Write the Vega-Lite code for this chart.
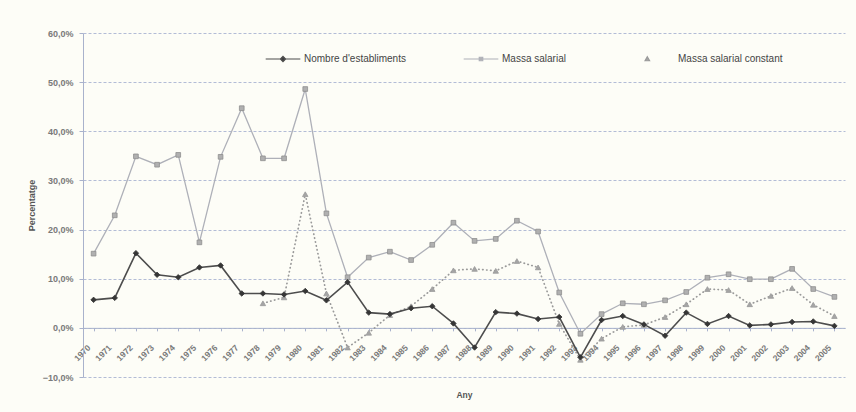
{
  "$schema": "https://vega.github.io/schema/vega-lite/v6.json",
  "width": 762,
  "height": 344,
  "autosize": {"type": "none"},
  "padding": {"left": 83, "top": 33, "right": 11, "bottom": 35},
  "background": "#fdfdf7",
  "config": {
    "font": "Liberation Sans",
    "view": {"stroke": null},
    "axis": {"labelFont": "Liberation Sans", "titleFont": "Liberation Sans"}
  },
  "data": {
    "values": [
      {"Any": "1970", "serie": "Nombre d'establiments", "valor": 5.7},
      {"Any": "1971", "serie": "Nombre d'establiments", "valor": 6.1},
      {"Any": "1972", "serie": "Nombre d'establiments", "valor": 15.2},
      {"Any": "1973", "serie": "Nombre d'establiments", "valor": 10.8},
      {"Any": "1974", "serie": "Nombre d'establiments", "valor": 10.3},
      {"Any": "1975", "serie": "Nombre d'establiments", "valor": 12.3},
      {"Any": "1976", "serie": "Nombre d'establiments", "valor": 12.7},
      {"Any": "1977", "serie": "Nombre d'establiments", "valor": 7.0},
      {"Any": "1978", "serie": "Nombre d'establiments", "valor": 7.0},
      {"Any": "1979", "serie": "Nombre d'establiments", "valor": 6.8},
      {"Any": "1980", "serie": "Nombre d'establiments", "valor": 7.5},
      {"Any": "1981", "serie": "Nombre d'establiments", "valor": 5.6},
      {"Any": "1982", "serie": "Nombre d'establiments", "valor": 9.3},
      {"Any": "1983", "serie": "Nombre d'establiments", "valor": 3.1},
      {"Any": "1984", "serie": "Nombre d'establiments", "valor": 2.8},
      {"Any": "1985", "serie": "Nombre d'establiments", "valor": 4.0},
      {"Any": "1986", "serie": "Nombre d'establiments", "valor": 4.4},
      {"Any": "1987", "serie": "Nombre d'establiments", "valor": 0.9},
      {"Any": "1988", "serie": "Nombre d'establiments", "valor": -4.0},
      {"Any": "1989", "serie": "Nombre d'establiments", "valor": 3.2},
      {"Any": "1990", "serie": "Nombre d'establiments", "valor": 2.9},
      {"Any": "1991", "serie": "Nombre d'establiments", "valor": 1.8},
      {"Any": "1992", "serie": "Nombre d'establiments", "valor": 2.2},
      {"Any": "1993", "serie": "Nombre d'establiments", "valor": -6.0},
      {"Any": "1994", "serie": "Nombre d'establiments", "valor": 1.6},
      {"Any": "1995", "serie": "Nombre d'establiments", "valor": 2.4},
      {"Any": "1996", "serie": "Nombre d'establiments", "valor": 0.7},
      {"Any": "1997", "serie": "Nombre d'establiments", "valor": -1.6},
      {"Any": "1998", "serie": "Nombre d'establiments", "valor": 3.1},
      {"Any": "1999", "serie": "Nombre d'establiments", "valor": 0.8},
      {"Any": "2000", "serie": "Nombre d'establiments", "valor": 2.4},
      {"Any": "2001", "serie": "Nombre d'establiments", "valor": 0.5},
      {"Any": "2002", "serie": "Nombre d'establiments", "valor": 0.7},
      {"Any": "2003", "serie": "Nombre d'establiments", "valor": 1.2},
      {"Any": "2004", "serie": "Nombre d'establiments", "valor": 1.3},
      {"Any": "2005", "serie": "Nombre d'establiments", "valor": 0.4},
      {"Any": "1970", "serie": "Massa salarial", "valor": 15.1},
      {"Any": "1971", "serie": "Massa salarial", "valor": 22.9},
      {"Any": "1972", "serie": "Massa salarial", "valor": 34.9},
      {"Any": "1973", "serie": "Massa salarial", "valor": 33.2},
      {"Any": "1974", "serie": "Massa salarial", "valor": 35.2},
      {"Any": "1975", "serie": "Massa salarial", "valor": 17.4},
      {"Any": "1976", "serie": "Massa salarial", "valor": 34.8},
      {"Any": "1977", "serie": "Massa salarial", "valor": 44.7},
      {"Any": "1978", "serie": "Massa salarial", "valor": 34.5},
      {"Any": "1979", "serie": "Massa salarial", "valor": 34.5},
      {"Any": "1980", "serie": "Massa salarial", "valor": 48.6},
      {"Any": "1981", "serie": "Massa salarial", "valor": 23.3},
      {"Any": "1982", "serie": "Massa salarial", "valor": 10.3},
      {"Any": "1983", "serie": "Massa salarial", "valor": 14.3},
      {"Any": "1984", "serie": "Massa salarial", "valor": 15.5},
      {"Any": "1985", "serie": "Massa salarial", "valor": 13.8},
      {"Any": "1986", "serie": "Massa salarial", "valor": 16.9},
      {"Any": "1987", "serie": "Massa salarial", "valor": 21.4},
      {"Any": "1988", "serie": "Massa salarial", "valor": 17.7},
      {"Any": "1989", "serie": "Massa salarial", "valor": 18.1},
      {"Any": "1990", "serie": "Massa salarial", "valor": 21.8},
      {"Any": "1991", "serie": "Massa salarial", "valor": 19.6},
      {"Any": "1992", "serie": "Massa salarial", "valor": 7.2},
      {"Any": "1993", "serie": "Massa salarial", "valor": -1.2},
      {"Any": "1994", "serie": "Massa salarial", "valor": 2.8},
      {"Any": "1995", "serie": "Massa salarial", "valor": 5.0},
      {"Any": "1996", "serie": "Massa salarial", "valor": 4.8},
      {"Any": "1997", "serie": "Massa salarial", "valor": 5.6},
      {"Any": "1998", "serie": "Massa salarial", "valor": 7.3},
      {"Any": "1999", "serie": "Massa salarial", "valor": 10.2},
      {"Any": "2000", "serie": "Massa salarial", "valor": 10.9},
      {"Any": "2001", "serie": "Massa salarial", "valor": 9.9},
      {"Any": "2002", "serie": "Massa salarial", "valor": 9.9},
      {"Any": "2003", "serie": "Massa salarial", "valor": 12.0},
      {"Any": "2004", "serie": "Massa salarial", "valor": 7.9},
      {"Any": "2005", "serie": "Massa salarial", "valor": 6.3},
      {"Any": "1978", "serie": "Massa salarial constant", "valor": 5.0},
      {"Any": "1979", "serie": "Massa salarial constant", "valor": 6.2},
      {"Any": "1980", "serie": "Massa salarial constant", "valor": 27.2},
      {"Any": "1981", "serie": "Massa salarial constant", "valor": 7.0},
      {"Any": "1982", "serie": "Massa salarial constant", "valor": -4.0},
      {"Any": "1983", "serie": "Massa salarial constant", "valor": -1.0},
      {"Any": "1984", "serie": "Massa salarial constant", "valor": 2.6},
      {"Any": "1985", "serie": "Massa salarial constant", "valor": 4.4},
      {"Any": "1986", "serie": "Massa salarial constant", "valor": 7.9},
      {"Any": "1987", "serie": "Massa salarial constant", "valor": 11.7},
      {"Any": "1988", "serie": "Massa salarial constant", "valor": 12.0},
      {"Any": "1989", "serie": "Massa salarial constant", "valor": 11.6},
      {"Any": "1990", "serie": "Massa salarial constant", "valor": 13.6},
      {"Any": "1991", "serie": "Massa salarial constant", "valor": 12.3},
      {"Any": "1992", "serie": "Massa salarial constant", "valor": 0.8},
      {"Any": "1993", "serie": "Massa salarial constant", "valor": -6.5},
      {"Any": "1994", "serie": "Massa salarial constant", "valor": -2.2},
      {"Any": "1995", "serie": "Massa salarial constant", "valor": 0.2},
      {"Any": "1996", "serie": "Massa salarial constant", "valor": 0.6},
      {"Any": "1997", "serie": "Massa salarial constant", "valor": 2.2},
      {"Any": "1998", "serie": "Massa salarial constant", "valor": 4.8},
      {"Any": "1999", "serie": "Massa salarial constant", "valor": 7.9},
      {"Any": "2000", "serie": "Massa salarial constant", "valor": 7.7},
      {"Any": "2001", "serie": "Massa salarial constant", "valor": 4.8},
      {"Any": "2002", "serie": "Massa salarial constant", "valor": 6.5},
      {"Any": "2003", "serie": "Massa salarial constant", "valor": 8.1},
      {"Any": "2004", "serie": "Massa salarial constant", "valor": 4.7},
      {"Any": "2005", "serie": "Massa salarial constant", "valor": 2.4}
    ]
  },
  "encoding": {
    "x": {
      "field": "Any",
      "type": "ordinal",
      "scale": {"type": "point", "padding": 0.5},
      "axis": {
        "title": "Any",
        "offset": -49.14,
        "labelAngle": -45,
        "labelFontSize": 8.5,
        "labelFontWeight": "bold",
        "labelColor": "#7a7a7a",
        "labelPadding": 12,
        "labelOffset": -8,
        "domainColor": "#a9b2cc",
        "tickColor": "#a9b2cc",
        "tickSize": 3,
        "grid": false,
        "titleFontSize": 8.5,
        "titleFontWeight": "bold",
        "titleColor": "#555555",
        "titlePadding": 28
      }
    },
    "y": {
      "field": "valor",
      "type": "quantitative",
      "scale": {"domain": [-10, 60], "nice": false, "zero": false},
      "axis": {
        "title": "Percentatge",
        "values": [-10, 0, 10, 20, 30, 40, 50, 60],
        "labelExpr": "replace(format(datum.value, '.1f'), '.', ',') + '%'",
        "labelFontSize": 9,
        "labelFontWeight": "bold",
        "labelColor": "#7a7a7a",
        "labelPadding": 6,
        "domainColor": "#a9b2cc",
        "tickColor": "#a9b2cc",
        "tickSize": 4,
        "grid": true,
        "gridColor": "#b3bcd6",
        "gridDash": [3, 2],
        "gridWidth": 1,
        "titleFontSize": 9,
        "titleFontWeight": "bold",
        "titleColor": "#555555",
        "titlePadding": 6
      }
    },
    "color": {
      "field": "serie",
      "type": "nominal",
      "scale": {
        "domain": ["Nombre d'establiments", "Massa salarial", "Massa salarial constant"],
        "range": ["#4d4d4d", "#aeb0b8", "#9a9a9a"]
      },
      "legend": {
        "title": null,
        "orient": "none",
        "legendX": 182,
        "legendY": 8,
        "direction": "horizontal",
        "columnPadding": 55,
        "labelFontSize": 10,
        "labelFont": "Liberation Sans",
        "labelColor": "#444444",
        "labelOffset": 3,
        "symbolSize": 1200,
        "symbolStrokeWidth": 1.2,
        "symbolType": "M-1,0H1",
        "encode": {
          "symbols": {
            "update": {
              "shape": {"signal": "datum.index === 0 ? 'M-1,0H1M0,-0.15L0.15,0L0,0.15L-0.15,0Z' : datum.index === 1 ? 'M-1,0H1M-0.1,-0.1H0.1V0.1H-0.1Z' : 'M0.48,-0.13L0.61,0.1L0.35,0.1Z'"},
              "fill": {"signal": "datum.index === 0 ? '#333333' : datum.index === 1 ? '#b5b5b5' : '#a5a5a5'"},
              "strokeDash": {"value": []}
            }
          },
          "labels": {
            "update": {
              "dx": {"signal": "datum.index === 2 ? 18 : 0"}
            }
          }
        }
      }
    }
  },
  "layer": [
    {
      "transform": [{"filter": "datum.serie === 'Massa salarial'"}],
      "mark": {"type": "line", "strokeWidth": 1.3}
    },
    {
      "transform": [{"filter": "datum.serie === 'Massa salarial constant'"}],
      "mark": {"type": "line", "strokeWidth": 1.7, "strokeDash": [0.4, 3.6], "strokeCap": "round"}
    },
    {
      "transform": [{"filter": "datum.serie === \"Nombre d'establiments\""}],
      "mark": {"type": "line", "strokeWidth": 1.6}
    },
    {
      "transform": [{"filter": "datum.serie === 'Massa salarial'"}],
      "mark": {"type": "point", "shape": "square", "filled": true, "fill": "#b0b0b0", "stroke": "#8e8e8e", "strokeWidth": 0.8, "size": 22, "opacity": 1},
      "encoding": {"color": {"value": "#b0b0b0"}}
    },
    {
      "transform": [{"filter": "datum.serie === 'Massa salarial constant'"}],
      "mark": {"type": "point", "shape": "triangle-up", "filled": true, "fill": "#a5a5a5", "stroke": "#9a9a9a", "strokeWidth": 0.8, "size": 30, "opacity": 1},
      "encoding": {"color": {"value": "#a5a5a5"}}
    },
    {
      "transform": [{"filter": "datum.serie === \"Nombre d'establiments\""}],
      "mark": {"type": "point", "shape": "diamond", "filled": true, "fill": "#363636", "stroke": "#333333", "strokeWidth": 0.8, "size": 30, "opacity": 1},
      "encoding": {"color": {"value": "#363636"}}
    }
  ]
}
